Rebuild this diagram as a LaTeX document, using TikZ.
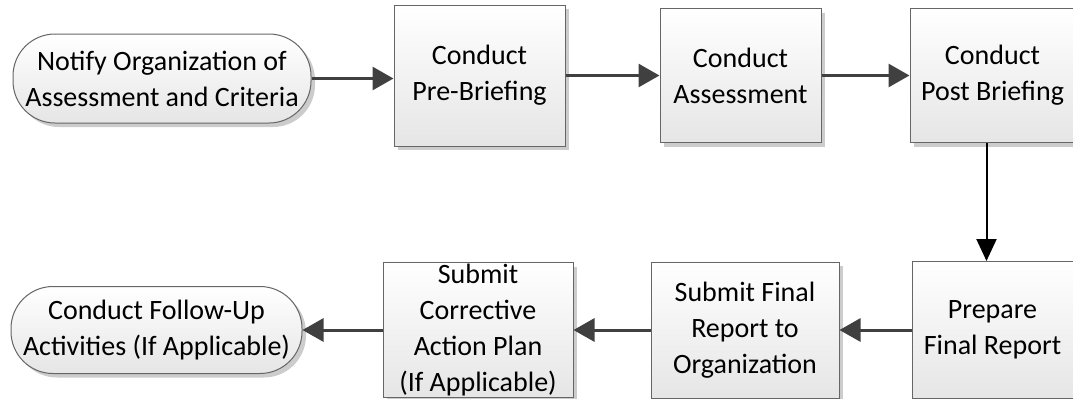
\documentclass[tikz,border=0pt]{standalone}
\usepackage{fontspec}
\setmainfont{Carlito}
\usetikzlibrary{positioning,arrows.meta,shadows}
\tikzset{
  stepbox/.style={rectangle, draw=black!60, line width=0.5pt, top color=white, bottom color=black!10,
                  drop shadow={shadow xshift=2pt, shadow yshift=-2pt, fill=black!20, opacity=1},
                  align=center, inner sep=0pt, font=\fontsize{14}{18}\selectfont},
  terminal/.style={stepbox, rounded corners=21pt},
  fwd/.style={-{Triangle[length=10.5pt, width=11.5pt]}, line width=1.5pt, draw=black!75},
  down/.style={-{Triangle[length=11pt, width=10pt]}, line width=1pt, draw=black},
}
\begin{document}
\begin{tikzpicture}
  \useasboundingbox (0,0) rectangle (536.5pt,-199pt);

  % top row
  \node[terminal, minimum width=149pt, minimum height=44.5pt] (notify) at (81pt,-39.25pt) {Notify Organization of\\Assessment and Criteria};
  \node[stepbox, minimum width=85.5pt, minimum height=70.5pt, yshift=1.5pt] (prebrief) [right=41pt of notify] {Conduct\\Pre-Briefing};
  \node[stepbox, minimum width=80.5pt, minimum height=67pt] (assess) [right=47pt of prebrief] {Conduct\\Assessment};
  \node[stepbox, minimum width=82.5pt, minimum height=67pt] (postbrief) [right=44pt of assess] {Conduct\\Post Briefing};

  % bottom row
  \node[stepbox, minimum width=80.5pt, minimum height=68.5pt] (prepare) [below=59pt of postbrief] {Prepare\\Final Report};
  \node[stepbox, minimum width=94pt, minimum height=68pt] (submit) [left=36pt of prepare] {Submit Final\\Report to\\Organization};
  \node[stepbox, minimum width=95pt, minimum height=67.5pt] (corrective) [left=38.5pt of submit] {Submit\\Corrective\\Action Plan\\(If Applicable)};
  \node[terminal, minimum width=145.5pt, minimum height=43.5pt] (followup) [left=40pt of corrective] {Conduct Follow-Up\\Activities (If Applicable)};

  \draw[fwd] (notify.east) -- (notify.east -| prebrief.west);
  \draw[fwd] (assess.west -| prebrief.east) -- (assess.west);
  \draw[fwd] (assess.east) -- (postbrief.west);
  \draw[down] ([xshift=-3pt]postbrief.south) -- ([xshift=-3pt]prepare.north);
  \draw[fwd] (prepare.west) -- (prepare.west -| submit.east);
  \draw[fwd] (submit.west) -- (submit.west -| corrective.east);
  \draw[fwd] (corrective.west) -- (corrective.west -| followup.east);

\end{tikzpicture}
\end{document}
